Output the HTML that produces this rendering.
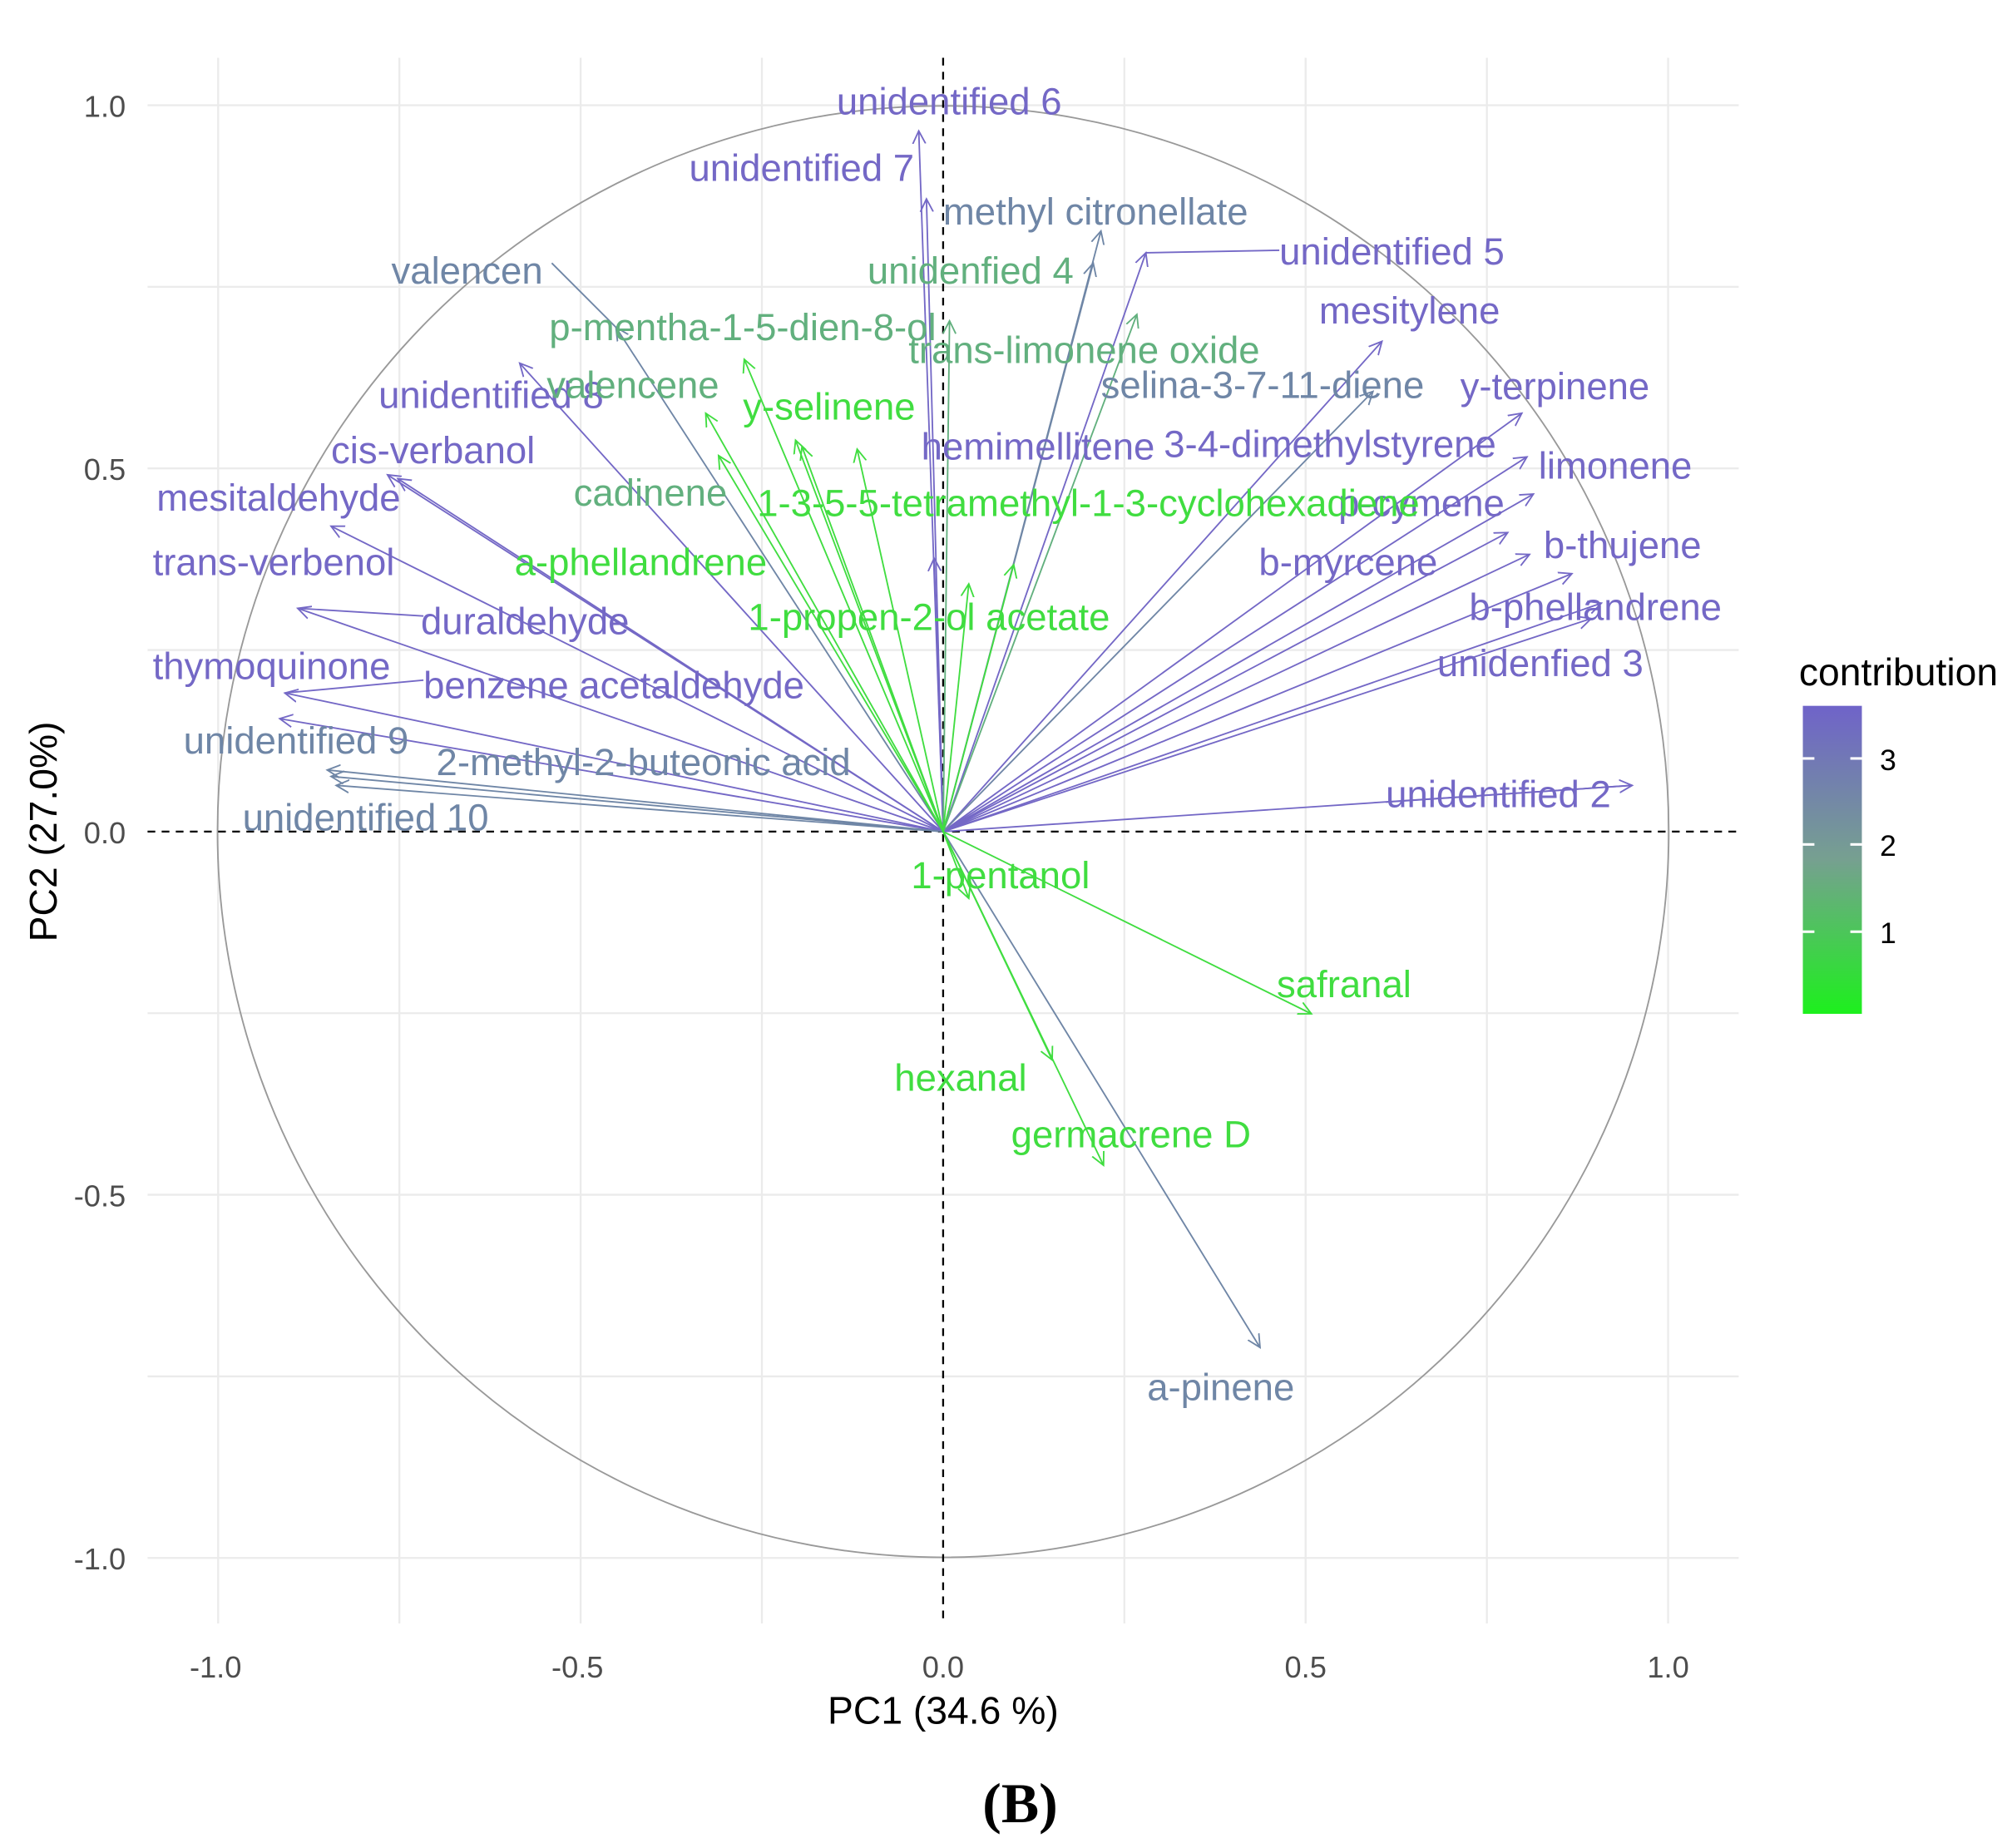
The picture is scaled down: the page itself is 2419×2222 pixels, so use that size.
<!DOCTYPE html>
<html><head><meta charset="utf-8"><style>
html,body{margin:0;padding:0;background:#fff;}
svg{display:block;}
text{font-family:"Liberation Sans",sans-serif;}
</style></head><body>
<svg width="2419" height="2222" viewBox="0 0 1568 1440" preserveAspectRatio="none" xmlns="http://www.w3.org/2000/svg">
<defs>
<marker id="mp" markerWidth="12" markerHeight="12" refX="10" refY="6" orient="auto" markerUnits="userSpaceOnUse"><path d="M0,1 L10,6 L0,11" fill="none" stroke="#7468c6" stroke-width="1.2"/></marker>
<marker id="mb" markerWidth="12" markerHeight="12" refX="10" refY="6" orient="auto" markerUnits="userSpaceOnUse"><path d="M0,1 L10,6 L0,11" fill="none" stroke="#6f86a6" stroke-width="1.2"/></marker>
<marker id="mg" markerWidth="12" markerHeight="12" refX="10" refY="6" orient="auto" markerUnits="userSpaceOnUse"><path d="M0,1 L10,6 L0,11" fill="none" stroke="#40dd40" stroke-width="1.2"/></marker>
<marker id="mm" markerWidth="12" markerHeight="12" refX="10" refY="6" orient="auto" markerUnits="userSpaceOnUse"><path d="M0,1 L10,6 L0,11" fill="none" stroke="#62b07e" stroke-width="1.2"/></marker>
<linearGradient id="cg" x1="0" y1="0" x2="0" y2="1"><stop offset="0" stop-color="#6f63c9"/><stop offset="0.5" stop-color="#76a090"/><stop offset="1" stop-color="#1df01d"/></linearGradient>
</defs>
<g stroke="#ebebeb" stroke-width="1.5">
<line x1="115" y1="82" x2="1355" y2="82"/><line x1="115" y1="223.5" x2="1355" y2="223.5"/><line x1="115" y1="365" x2="1355" y2="365"/><line x1="115" y1="506.5" x2="1355" y2="506.5"/><line x1="115" y1="789.5" x2="1355" y2="789.5"/><line x1="115" y1="931" x2="1355" y2="931"/><line x1="115" y1="1072.5" x2="1355" y2="1072.5"/><line x1="115" y1="1214" x2="1355" y2="1214"/>
<line x1="170" y1="45" x2="170" y2="1265"/><line x1="311.25" y1="45" x2="311.25" y2="1265"/><line x1="452.5" y1="45" x2="452.5" y2="1265"/><line x1="593.75" y1="45" x2="593.75" y2="1265"/><line x1="876.25" y1="45" x2="876.25" y2="1265"/><line x1="1017.5" y1="45" x2="1017.5" y2="1265"/><line x1="1158.75" y1="45" x2="1158.75" y2="1265"/><line x1="1300" y1="45" x2="1300" y2="1265"/>
</g>
<circle cx="735" cy="648" r="565.5" fill="none" stroke="#999" stroke-width="1.2"/>
<line x1="115" y1="648" x2="1355" y2="648" stroke="#000" stroke-width="1.5" stroke-dasharray="6,5"/>
<line x1="735" y1="45" x2="735" y2="1265" stroke="#000" stroke-width="1.5" stroke-dasharray="6,5"/>
<g stroke-width="1.2" fill="none">
<g stroke="#7468c6" marker-end="url(#mp)">
<line x1="735" y1="648" x2="716" y2="102"/><line x1="735" y1="648" x2="722" y2="155"/>
<line x1="735" y1="648" x2="893" y2="197"/><line x1="735" y1="648" x2="1077" y2="266"/>
<line x1="735" y1="648" x2="1186" y2="322"/><line x1="735" y1="648" x2="1190" y2="356"/>
<line x1="735" y1="648" x2="1195" y2="385"/><line x1="735" y1="648" x2="1175" y2="415"/>
<line x1="735" y1="648" x2="1192" y2="432"/><line x1="735" y1="648" x2="1225" y2="447"/>
<line x1="735" y1="648" x2="1248" y2="470"/><line x1="735" y1="648" x2="1240" y2="482"/>
<line x1="735" y1="648" x2="1272" y2="612"/><line x1="735" y1="648" x2="728" y2="435"/>
<line x1="735" y1="648" x2="405" y2="283"/><line x1="735" y1="648" x2="302" y2="370"/>
<line x1="735" y1="648" x2="310" y2="373"/><line x1="735" y1="648" x2="258" y2="410"/>
<line x1="735" y1="648" x2="232" y2="474"/><line x1="735" y1="648" x2="222" y2="540"/>
<line x1="735" y1="648" x2="218" y2="560"/>
</g>
<g stroke="#6f86a6" marker-end="url(#mb)">
<line x1="735" y1="648" x2="858" y2="180"/><line x1="735" y1="648" x2="852" y2="205"/>
<line x1="735" y1="648" x2="1070" y2="305"/><line x1="735" y1="648" x2="982" y2="1050"/>
<line x1="735" y1="648" x2="480" y2="255"/><line x1="735" y1="648" x2="255" y2="600"/>
<line x1="735" y1="648" x2="262" y2="612"/><line x1="735" y1="648" x2="258" y2="605"/>
</g>
<g stroke="#62b07e" marker-end="url(#mm)">
<line x1="735" y1="648" x2="886" y2="245"/><line x1="735" y1="648" x2="740" y2="250"/>
</g>
<g stroke="#40dd40" marker-end="url(#mg)">
<line x1="735" y1="648" x2="1022" y2="790"/><line x1="735" y1="648" x2="820" y2="826"/>
<line x1="735" y1="648" x2="860" y2="908"/><line x1="735" y1="648" x2="755" y2="700"/>
<line x1="735" y1="648" x2="755" y2="455"/><line x1="735" y1="648" x2="790" y2="440"/>
<line x1="735" y1="648" x2="580" y2="280"/><line x1="735" y1="648" x2="550" y2="322"/>
<line x1="735" y1="648" x2="668" y2="350"/><line x1="735" y1="648" x2="560" y2="355"/>
<line x1="735" y1="648" x2="620" y2="343"/><line x1="735" y1="648" x2="625" y2="348"/>
</g>
<path d="M893,197 L997,195" stroke="#7468c6"/>
<path d="M232,474 L330,480" stroke="#7468c6"/>
<path d="M222,540 L330,530" stroke="#7468c6"/>
<path d="M1080,625 L1272,612" stroke="#7468c6"/>
<path d="M430,205 L480,255" stroke="#6f86a6"/>
</g>
<g font-size="29.5">
<g fill="#7468c6">
<text x="652" y="89">unidentified 6</text><text x="537" y="141">unidentified 7</text>
<text x="997" y="206">unidentified 5</text><text x="1028" y="252">mesitylene</text>
<text x="1138" y="311">y-terpinene</text><text x="1199" y="373">limonene</text>
<text x="1043" y="402">p-cymene</text><text x="981" y="448">b-myrcene</text>
<text x="1203" y="435">b-thujene</text><text x="1145" y="483">b-phellandrene</text>
<text x="1120" y="527">unidenfied 3</text><text x="1080" y="629">unidentified 2</text>
<text x="718" y="358">hemimellitene</text><text x="907" y="356">3-4-dimethylstyrene</text>
<text x="295" y="318">unidentified 8</text><text x="258" y="361">cis-verbanol</text>
<text x="122" y="398">mesitaldehyde</text><text x="119" y="448">trans-verbenol</text>
<text x="328" y="494">duraldehyde</text><text x="119" y="529">thymoquinone</text>
<text x="330" y="544">benzene acetaldehyde</text>
</g>
<g fill="#6f86a6">
<text x="735" y="175">methyl citronellate</text><text x="305" y="221">valencen</text>
<text x="858" y="310">selina-3-7-11-diene</text><text x="143" y="587">unidentified 9</text>
<text x="340" y="604">2-methyl-2-buteonic acid</text><text x="189" y="647">unidentified 10</text>
<text x="894" y="1091">a-pinene</text>
</g>
<g fill="#62b07e">
<text x="676" y="221">unidenfied 4</text><text x="708" y="283">trans-limonene oxide</text>
<text x="428" y="265">p-mentha-1-5-dien-8-ol</text><text x="426" y="310">valencene</text>
<text x="447" y="394">cadinene</text>
</g>
<g fill="#40dd40">
<text x="579" y="327">y-selinene</text><text x="590" y="402">1-3-5-5-tetramethyl-1-3-cyclohexadiene</text>
<text x="401" y="448">a-phellandrene</text><text x="583" y="491">1-propen-2-ol acetate</text>
<text x="710" y="692">1-pentanol</text><text x="995" y="777">safranal</text>
<text x="697" y="850">hexanal</text><text x="788" y="894">germacrene D</text>
</g>
</g>
<g font-size="23.5" fill="#4d4d4d">
<text x="98" y="91" text-anchor="end">1.0</text><text x="98" y="374" text-anchor="end">0.5</text>
<text x="98" y="657" text-anchor="end">0.0</text><text x="98" y="940" text-anchor="end">-0.5</text>
<text x="98" y="1223" text-anchor="end">-1.0</text>
<text x="168" y="1307" text-anchor="middle">-1.0</text><text x="450" y="1307" text-anchor="middle">-0.5</text>
<text x="735" y="1307" text-anchor="middle">0.0</text><text x="1017.5" y="1307" text-anchor="middle">0.5</text>
<text x="1300" y="1307" text-anchor="middle">1.0</text>
</g>
<text x="735" y="1343" font-size="30" text-anchor="middle" fill="#000">PC1 (34.6 %)</text>
<text transform="translate(44,648) rotate(-90)" font-size="30" text-anchor="middle" fill="#000">PC2 (27.0%)</text>
<text x="1402" y="534" font-size="30" fill="#000">contribution</text>
<rect x="1405" y="550" width="46" height="240" fill="url(#cg)"/>
<g stroke="#fff" stroke-width="2">
<line x1="1405" y1="591" x2="1414" y2="591"/><line x1="1442" y1="591" x2="1451" y2="591"/>
<line x1="1405" y1="658" x2="1414" y2="658"/><line x1="1442" y1="658" x2="1451" y2="658"/>
<line x1="1405" y1="726" x2="1414" y2="726"/><line x1="1442" y1="726" x2="1451" y2="726"/>
</g>
<g font-size="23" fill="#000"><text x="1465" y="600">3</text><text x="1465" y="667">2</text><text x="1465" y="735">1</text></g>
<text x="795" y="1420" font-size="44" font-weight="bold" text-anchor="middle" style="font-family:'Liberation Serif',serif">(B)</text>
</svg>
</body></html>
